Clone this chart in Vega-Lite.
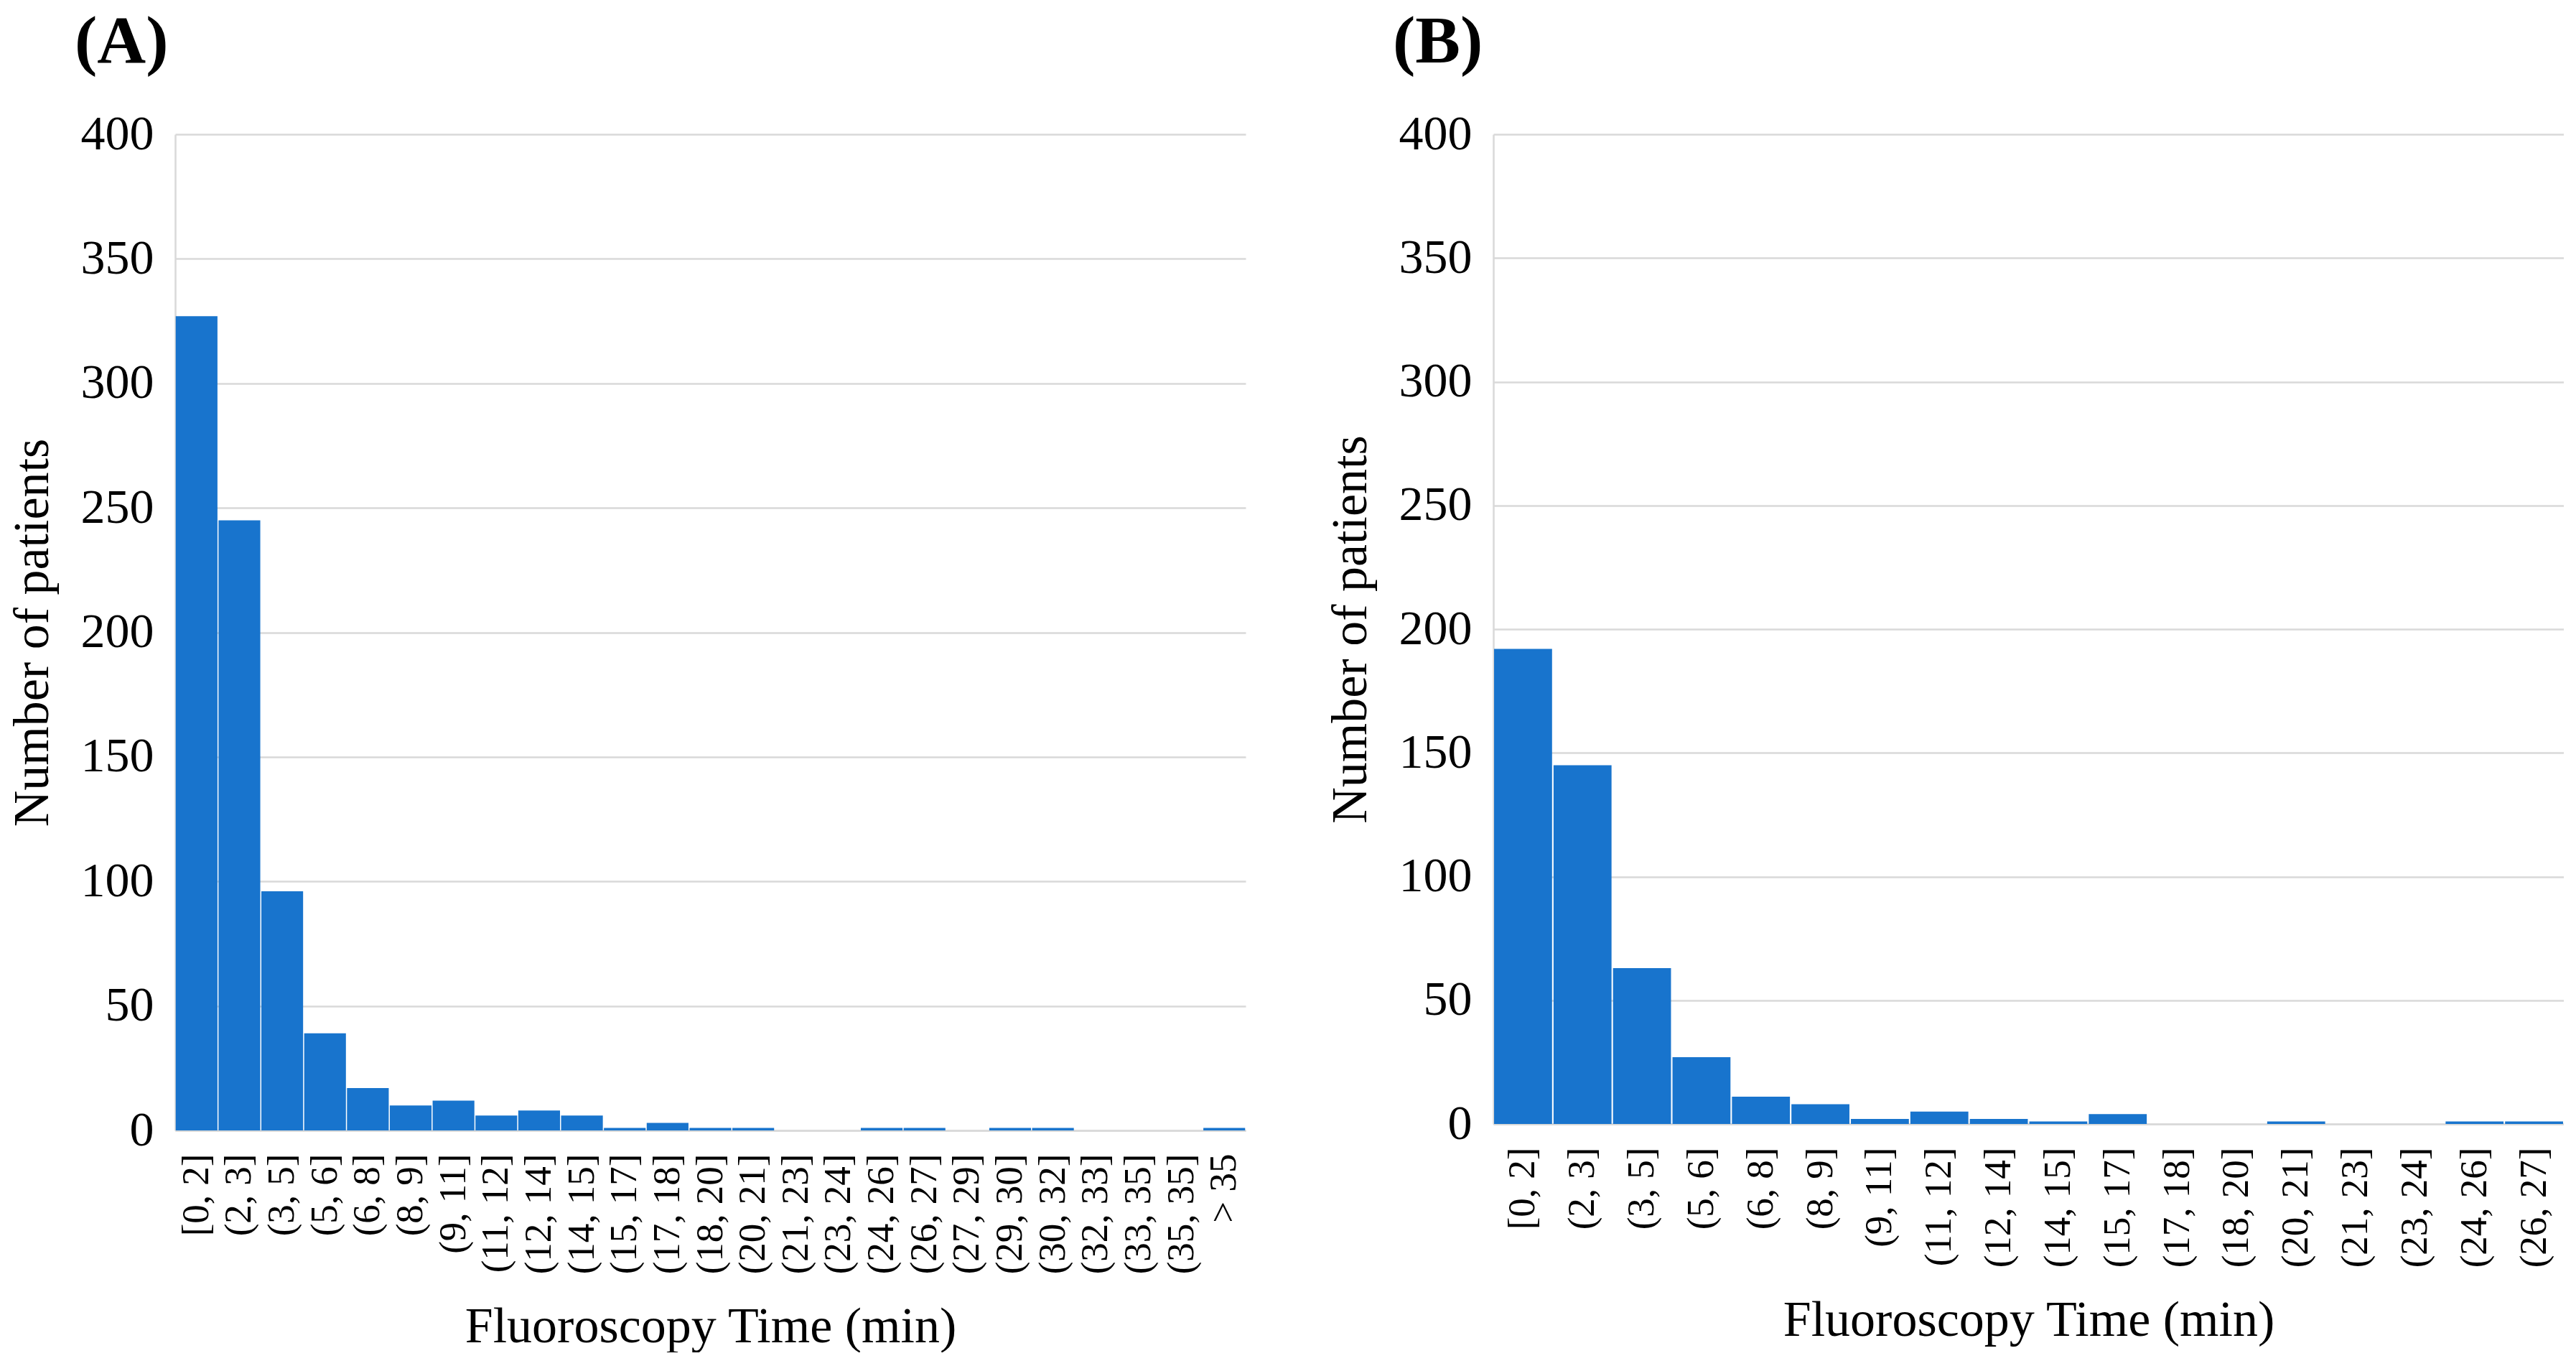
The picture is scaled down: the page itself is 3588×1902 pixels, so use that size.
{
  "$schema": "https://vega.github.io/schema/vega-lite/v6.json",
  "background": "white",
  "padding": {"left": 10, "top": 12, "right": 0, "bottom": 0},
  "datasets": {
    "A": [
      {"bin": "[0, 2]", "n": 327},
      {"bin": "(2, 3]", "n": 245},
      {"bin": "(3, 5]", "n": 96},
      {"bin": "(5, 6]", "n": 39},
      {"bin": "(6, 8]", "n": 17},
      {"bin": "(8, 9]", "n": 10},
      {"bin": "(9, 11]", "n": 12},
      {"bin": "(11, 12]", "n": 6},
      {"bin": "(12, 14]", "n": 8},
      {"bin": "(14, 15]", "n": 6},
      {"bin": "(15, 17]", "n": 1},
      {"bin": "(17, 18]", "n": 3},
      {"bin": "(18, 20]", "n": 1},
      {"bin": "(20, 21]", "n": 1},
      {"bin": "(21, 23]", "n": 0},
      {"bin": "(23, 24]", "n": 0},
      {"bin": "(24, 26]", "n": 1},
      {"bin": "(26, 27]", "n": 1},
      {"bin": "(27, 29]", "n": 0},
      {"bin": "(29, 30]", "n": 1},
      {"bin": "(30, 32]", "n": 1},
      {"bin": "(32, 33]", "n": 0},
      {"bin": "(33, 35]", "n": 0},
      {"bin": "(35, 35]", "n": 0},
      {"bin": "> 35", "n": 1}
    ],
    "B": [
      {"bin": "[0, 2]", "n": 192},
      {"bin": "(2, 3]", "n": 145},
      {"bin": "(3, 5]", "n": 63},
      {"bin": "(5, 6]", "n": 27},
      {"bin": "(6, 8]", "n": 11},
      {"bin": "(8, 9]", "n": 8},
      {"bin": "(9, 11]", "n": 2},
      {"bin": "(11, 12]", "n": 5},
      {"bin": "(12, 14]", "n": 2},
      {"bin": "(14, 15]", "n": 1},
      {"bin": "(15, 17]", "n": 4},
      {"bin": "(17, 18]", "n": 0},
      {"bin": "(18, 20]", "n": 0},
      {"bin": "(20, 21]", "n": 1},
      {"bin": "(21, 23]", "n": 0},
      {"bin": "(23, 24]", "n": 0},
      {"bin": "(24, 26]", "n": 1},
      {"bin": "(26, 27]", "n": 1}
    ]
  },
  "config": {
    "font": "Liberation Serif",
    "view": {"stroke": null},
    "concat": {"spacing": 111},
    "axisX": {
      "labelAngle": -90,
      "labelAlign": "right",
      "labelBaseline": "middle",
      "labelFontSize": 53,
      "labelPadding": 32,
      "labelLimit": 1000,
      "labelOverlap": false,
      "labelColor": "black",
      "ticks": false,
      "tickSize": 0,
      "domainColor": "#d9d9d9",
      "domainWidth": 2.5,
      "grid": false,
      "titleFontSize": 70,
      "titleFontWeight": "normal",
      "titleColor": "black",
      "titlePadding": 40,
      "zindex": 1
    },
    "axisY": {
      "labelFontSize": 68,
      "labelPadding": 30,
      "labelColor": "black",
      "ticks": false,
      "tickSize": 0,
      "domainColor": "#d9d9d9",
      "domainWidth": 2.5,
      "grid": true,
      "gridColor": "#d9d9d9",
      "gridWidth": 2.5,
      "titleFontSize": 70,
      "titleFontWeight": "normal",
      "titleColor": "black",
      "titlePadding": 31
    },
    "title": {
      "anchor": "start",
      "frame": "group",
      "fontSize": 94,
      "fontWeight": "bold",
      "font": "Liberation Serif",
      "color": "black",
      "dx": -140,
      "offset": 46
    }
  },
  "hconcat": [
    {
      "title": {"text": "(A)"},
      "width": 1491,
      "height": 1387,
      "data": {"name": "A"},
      "mark": {"type": "bar", "color": "#1874cd"},
      "encoding": {
        "x": {
          "field": "bin",
          "type": "nominal",
          "sort": null,
          "scale": {"paddingInner": 0.025, "paddingOuter": 0.0125},
          "title": "Fluoroscopy Time (min)"
        },
        "y": {
          "field": "n",
          "type": "quantitative",
          "scale": {"domain": [0, 400]},
          "axis": {"values": [0, 50, 100, 150, 200, 250, 300, 350, 400]},
          "title": "Number of patients"
        }
      }
    },
    {
      "title": {"text": "(B)"},
      "width": 1491,
      "height": 1378,
      "data": {"name": "B"},
      "mark": {"type": "bar", "color": "#1874cd"},
      "encoding": {
        "x": {
          "field": "bin",
          "type": "nominal",
          "sort": null,
          "scale": {"paddingInner": 0.025, "paddingOuter": 0.0125},
          "title": "Fluoroscopy Time (min)"
        },
        "y": {
          "field": "n",
          "type": "quantitative",
          "scale": {"domain": [0, 400]},
          "axis": {"values": [0, 50, 100, 150, 200, 250, 300, 350, 400]},
          "title": "Number of patients"
        }
      }
    }
  ]
}
